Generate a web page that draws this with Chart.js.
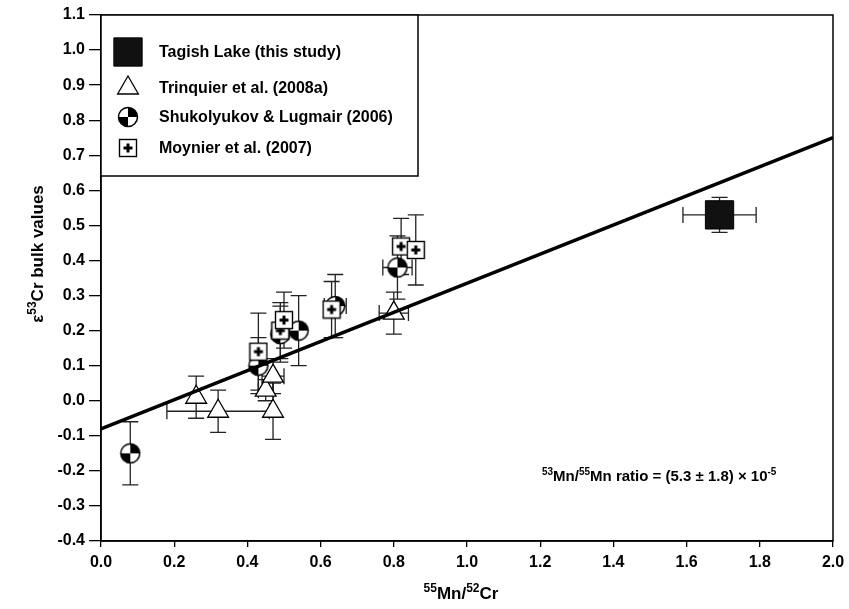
<!DOCTYPE html>
<html>
<head>
<meta charset="utf-8">
<script src="https://cdn.jsdelivr.net/npm/chart.js@4.4.1/dist/chart.umd.min.js"></script>
<style>body{margin:0;background:#fff}</style>
</head>
<body>
<canvas id="myChart" width="849" height="609"></canvas>
<script>
// Tagish Lake (this study)
var tagishX = [1.69];
var tagishY = [0.53];
var tagishXErr = [0.10];
var tagishYErr = [0.05];

// Trinquier et al. (2008a)
var trinX = [0.26, 0.32, 0.47, 0.45, 0.47, 0.80];
var trinY = [0.01, -0.03, -0.03, 0.03, 0.07, 0.25];
var trinXErr = [0, 0.14, 0, 0.02, 0.03, 0.04];
var trinYErr = [0.06, 0.06, 0.08, 0.03, 0.05, 0.06];

// Shukolyukov & Lugmair (2006)
var shukX = [0.08, 0.43, 0.49, 0.54, 0.64, 0.81];
var shukY = [-0.15, 0.10, 0.19, 0.20, 0.27, 0.38];
var shukXErr = [0, 0, 0, 0, 0.03, 0.04];
var shukYErr = [0.09, 0.08, 0.08, 0.10, 0.09, 0.09];

// Moynier et al. (2007)
var moyX = [0.43, 0.49, 0.50, 0.63, 0.82, 0.86];
var moyY = [0.14, 0.20, 0.23, 0.26, 0.44, 0.43];
var moyXErr = [0, 0, 0, 0, 0, 0];
var moyYErr = [0.11, 0.08, 0.08, 0.08, 0.08, 0.10];

// isochron line
var fitX = [0.0, 2.0];
var fitY = [-0.08, 0.75];

var xTickLabels = ['0.0','0.2','0.4','0.6','0.8','1.0','1.2','1.4','1.6','1.8','2.0'];
var yTickLabels = ['-0.4','-0.3','-0.2','-0.1','0.0','0.1','0.2','0.3','0.4','0.5','0.6','0.7','0.8','0.9','1.0','1.1'];

var FONT = '"Liberation Sans", Arial, sans-serif';

function pts(xs, ys) {
  return xs.map(function (x, i) { return {x: x, y: ys[i]}; });
}

// quartered circle marker
function quarterCircle() {
  var c = document.createElement('canvas');
  c.width = 22; c.height = 22;
  var g = c.getContext('2d');
  g.beginPath(); g.arc(11, 11, 9.5, 0, 2 * Math.PI); g.fillStyle = '#fff'; g.fill();
  g.fillStyle = '#000';
  g.beginPath(); g.moveTo(11, 11); g.arc(11, 11, 9.5, -Math.PI / 2, 0); g.closePath(); g.fill();
  g.beginPath(); g.moveTo(11, 11); g.arc(11, 11, 9.5, Math.PI / 2, Math.PI); g.closePath(); g.fill();
  g.beginPath(); g.arc(11, 11, 9.5, 0, 2 * Math.PI);
  g.lineWidth = 1.5; g.strokeStyle = '#000'; g.stroke();
  return c;
}

// square with a plus
function plusSquare() {
  var c = document.createElement('canvas');
  c.width = 20; c.height = 20;
  var g = c.getContext('2d');
  g.fillStyle = '#fff'; g.fillRect(1.5, 1.5, 17, 17);
  g.lineWidth = 1.4; g.strokeStyle = '#000'; g.strokeRect(1.5, 1.5, 17, 17);
  g.lineWidth = 3; g.beginPath();
  g.moveTo(10, 5.5); g.lineTo(10, 14.5);
  g.moveTo(5.5, 10); g.lineTo(14.5, 10);
  g.stroke();
  return c;
}

// text with superscripts
function richText(ctx, parts, x, y, size, align) {
  var supSize = Math.round(size * 0.68);
  var w = 0;
  parts.forEach(function (p) {
    ctx.font = 'bold ' + (p[1] ? supSize : size) + 'px ' + FONT;
    w += ctx.measureText(p[0]).width;
  });
  var cx = align === 'center' ? x - w / 2 : x;
  ctx.textBaseline = 'alphabetic';
  ctx.textAlign = 'left';
  parts.forEach(function (p) {
    ctx.font = 'bold ' + (p[1] ? supSize : size) + 'px ' + FONT;
    ctx.fillText(p[0], cx, p[1] ? y - size * 0.42 : y);
    cx += ctx.measureText(p[0]).width;
  });
}

var errorBars = {
  id: 'errorBars',
  beforeDatasetsDraw: function (chart) {
    var ctx = chart.ctx, xs = chart.scales.x, ys = chart.scales.y;
    ctx.save();
    ctx.strokeStyle = '#222';
    ctx.lineWidth = 1.3;
    chart.data.datasets.forEach(function (ds) {
      if (!ds.errY) return;
      ds.data.forEach(function (p, i) {
        var px = xs.getPixelForValue(p.x), py = ys.getPixelForValue(p.y);
        var ey = ds.errY[i], ex = ds.errX[i], cap = 8;
        ctx.beginPath();
        if (ey) {
          var t = ys.getPixelForValue(p.y + ey), b = ys.getPixelForValue(p.y - ey);
          ctx.moveTo(px, t); ctx.lineTo(px, b);
          ctx.moveTo(px - cap, t); ctx.lineTo(px + cap, t);
          ctx.moveTo(px - cap, b); ctx.lineTo(px + cap, b);
        }
        if (ex) {
          var l = xs.getPixelForValue(p.x - ex), r = xs.getPixelForValue(p.x + ex);
          ctx.moveTo(l, py); ctx.lineTo(r, py);
          ctx.moveTo(l, py - cap); ctx.lineTo(l, py + cap);
          ctx.moveTo(r, py - cap); ctx.lineTo(r, py + cap);
        }
        ctx.stroke();
      });
    });
    ctx.restore();
  }
};

var extras = {
  id: 'extras',
  afterDraw: function (chart) {
    var ctx = chart.ctx, a = chart.chartArea;
    ctx.save();
    // frame
    ctx.strokeStyle = '#000';
    ctx.lineWidth = 1.5;
    ctx.strokeRect(a.left, a.top, a.right - a.left, a.bottom - a.top);

    // legend box
    var lx = a.left, ly = a.top, lw = 317, lh = 161;
    ctx.fillStyle = '#fff';
    ctx.fillRect(lx, ly, lw, lh);
    ctx.strokeRect(lx, ly, lw, lh);
    var rows = [37, 73, 102, 133];
    chart.data.datasets.forEach(function (ds, i) {
      if (ds.legendRow === undefined) return;
      var yy = ly + rows[ds.legendRow];
      ctx.fillStyle = ds.backgroundColor;
      ctx.strokeStyle = '#000';
      ctx.lineWidth = ds.borderWidth;
      Chart.helpers.drawPoint(ctx, {
        pointStyle: ds.pointStyle, radius: ds.pointRadius, rotation: 0, borderWidth: ds.borderWidth
      }, lx + 27, yy);
      ctx.fillStyle = '#000';
      ctx.font = 'bold 16px ' + FONT;
      ctx.textAlign = 'left';
      ctx.textBaseline = 'middle';
      ctx.fillText(ds.label, lx + 58, yy + 1);
    });

    ctx.fillStyle = '#000';
    // ratio annotation
    richText(ctx, [['53', 1], ['Mn/', 0], ['55', 1], ['Mn ratio = (5.3 \u00b1 1.8) \u00d7 10', 0], ['-5', 1]],
      a.left + 441, a.bottom - 60, 15, 'left');
    // x title
    richText(ctx, [['55', 1], ['Mn/', 0], ['52', 1], ['Cr', 0]], (a.left + a.right) / 2 - 6, 599, 17, 'center');
    // y title
    ctx.translate(43, (a.top + a.bottom) / 2 - 24);
    ctx.rotate(-Math.PI / 2);
    richText(ctx, [['\u03b5', 0], ['53', 1], ['Cr bulk values', 0]], 0, 0, 17, 'center');
    ctx.restore();
  }
};

var ctx = document.getElementById('myChart').getContext('2d');
var myChart = new Chart(ctx, {
  type: 'scatter',
  data: {
    datasets: [
      {
        type: 'line',
        label: 'fit',
        data: pts(fitX, fitY),
        borderColor: '#000',
        borderWidth: 3.5,
        pointRadius: 0,
        fill: false,
        order: 0
      },
      {
        label: 'Tagish Lake (this study)',
        data: pts(tagishX, tagishY),
        errX: tagishXErr, errY: tagishYErr,
        pointStyle: 'rect',
        pointRadius: 20,
        backgroundColor: '#111',
        borderColor: '#000',
        borderWidth: 1,
        legendRow: 0,
        order: 1
      },
      {
        label: 'Moynier et al. (2007)',
        data: pts(moyX, moyY),
        errX: moyXErr, errY: moyYErr,
        pointStyle: plusSquare(),
        pointRadius: 10,
        backgroundColor: '#fff',
        borderColor: '#000',
        borderWidth: 1.3,
        legendRow: 3,
        order: 2
      },
      {
        label: 'Shukolyukov & Lugmair (2006)',
        data: pts(shukX, shukY),
        errX: shukXErr, errY: shukYErr,
        pointStyle: quarterCircle(),
        pointRadius: 10,
        backgroundColor: '#fff',
        borderColor: '#000',
        borderWidth: 1.3,
        legendRow: 2,
        order: 3
      },
      {
        label: 'Trinquier et al. (2008a)',
        data: pts(trinX, trinY),
        errX: trinXErr, errY: trinYErr,
        pointStyle: 'triangle',
        pointRadius: 12,
        backgroundColor: '#fff',
        borderColor: '#000',
        borderWidth: 1.3,
        legendRow: 1,
        order: 4
      }
    ]
  },
  options: {
    responsive: false,
    devicePixelRatio: 1,
    animation: false,
    layout: {autoPadding: false, padding: {top: 15, right: 16, left: 0, bottom: 0}},
    scales: {
      x: {
        type: 'linear',
        min: 0, max: 2,
        afterFit: function (s) { s.height = 68; s.paddingLeft = 0; s.paddingRight = 0; },
        afterBuildTicks: function (s) {
          s.ticks = xTickLabels.map(function (t) { return {value: parseFloat(t)}; });
        },
        ticks: {
          color: '#000',
          font: {family: FONT, size: 16, weight: 'bold'},
          padding: 6,
          maxRotation: 0,
          callback: function (v, i) { return xTickLabels[i]; }
        },
        grid: {drawOnChartArea: false, drawTicks: true, tickLength: 6, color: '#000', lineWidth: 1.3},
        border: {color: '#000', width: 1.5}
      },
      y: {
        type: 'linear',
        min: -0.4, max: 1.1,
        afterFit: function (s) { s.width = 101; s.paddingTop = 0; s.paddingBottom = 0; },
        afterBuildTicks: function (s) {
          s.ticks = yTickLabels.map(function (t) { return {value: parseFloat(t)}; });
        },
        ticks: {
          color: '#000',
          font: {family: FONT, size: 16, weight: 'bold'},
          padding: 4,
          callback: function (v, i) { return yTickLabels[i]; }
        },
        grid: {drawOnChartArea: false, drawTicks: true, tickLength: 12, color: '#000', lineWidth: 1.3},
        border: {color: '#000', width: 1.5}
      }
    },
    plugins: {
      legend: {display: false},
      tooltip: {enabled: false}
    }
  },
  plugins: [errorBars, extras]
});
</script>
</body>
</html>
